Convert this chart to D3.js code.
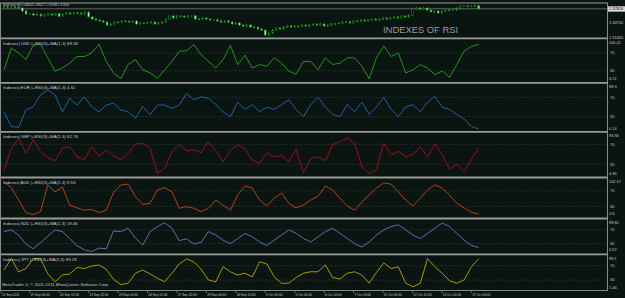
<!DOCTYPE html>
<html>
<head>
<meta charset="utf-8">
<script src="https://d3js.org/d3.v7.min.js"></script>
<style>
  body { margin: 0; background: #0a1410; }
  svg { display: block; font-family: "Liberation Sans", Arial, sans-serif; }
</style>
</head>
<body>
<svg id="chart" width="625" height="298"></svg>
<script>
// ---- data ----
const symbolHeader = "EURUSD,H4 1.38404 1.38527 1.37698 1.37826";
const timeLabels = ["15 Sep 2011", "19 Sep 04:00", "20 Sep 12:00", "21 Sep 20:00", "23 Sep 04:00",
  "26 Sep 12:00", "27 Sep 20:00", "29 Sep 04:00", "30 Sep 12:00", "3 Oct 20:00", "5 Oct 04:00",
  "6 Oct 12:00", "7 Oct 20:00", "11 Oct 04:00", "12 Oct 12:00", "13 Oct 20:00", "17 Oct 04:00"];
const priceLabels = ["1.37826", "1.34700", "1.31460"];
const priceTop = 1.3915, priceBottom = 1.3140;

// H4 closes, one per bar
const closes = [1.3830, 1.3818, 1.3826, 1.3821, 1.3801, 1.3733, 1.3664, 1.3668, 1.3641, 1.3660,
  1.3619, 1.3645, 1.3664, 1.3641, 1.3670, 1.3615, 1.3664, 1.3687, 1.3668, 1.3690,
  1.3684, 1.3666, 1.3712, 1.3596, 1.3550, 1.3527, 1.3505, 1.3482, 1.3413, 1.3436,
  1.3482, 1.3478, 1.3505, 1.3500, 1.3482, 1.3505, 1.3436, 1.3459, 1.3455, 1.3462,
  1.3482, 1.3436, 1.3459, 1.3482, 1.3550, 1.3619, 1.3573, 1.3619, 1.3615, 1.3596,
  1.3619, 1.3622, 1.3550, 1.3546, 1.3573, 1.3550, 1.3527, 1.3530, 1.3505, 1.3482,
  1.3505, 1.3482, 1.3436, 1.3459, 1.3413, 1.3390, 1.3413, 1.3368, 1.3365, 1.3322,
  1.3299, 1.3185, 1.3231, 1.3299, 1.3345, 1.3322, 1.3368, 1.3390, 1.3368, 1.3390,
  1.3386, 1.3413, 1.3390, 1.3413, 1.3436, 1.3413, 1.3436, 1.3390, 1.3413, 1.3436,
  1.3440, 1.3459, 1.3482, 1.3486, 1.3459, 1.3505, 1.3500, 1.3527, 1.3505, 1.3527,
  1.3550, 1.3527, 1.3550, 1.3573, 1.3550, 1.3573, 1.3596, 1.3573, 1.3619, 1.3596,
  1.3641, 1.3778, 1.3801, 1.3778, 1.3801, 1.3755, 1.3710, 1.3733, 1.3687, 1.3733,
  1.3755, 1.3750, 1.3755, 1.3801, 1.3847, 1.3850, 1.3843, 1.3847, 1.3852, 1.37826];

// RSI(3) index lines, sampled every second bar
const usd = [32, 81, 70, 55, 87, 90, 59, 29, 36, 47, 62, 62, 70, 90, 51, 25, 12, 44, 55, 32,
  25, 13, 32, 51, 74, 75, 89, 66, 51, 36, 55, 87, 44, 65, 36, 44, 40, 59, 47, 29,
  22, 51, 51, 32, 59, 44, 47, 59, 59, 40, 12, 59, 86, 62, 70, 25, 32, 44, 36, 21,
  29, 15, 44, 74, 85, 89.36];
const eur = [40, 10, 8, 44, 51, 75, 85, 75, 40, 68, 54, 71, 51, 40, 54, 58, 44, 40, 27, 51,
  34, 54, 54, 47, 54, 78, 65, 71, 68, 55, 40, 30, 60, 45, 55, 40, 50, 45, 55, 65,
  45, 30, 55, 70, 50, 35, 30, 55, 40, 60, 35, 50, 70, 45, 30, 50, 55, 40, 60, 72,
  50, 45, 35, 25, 10, 4.61];
const gbp = [17, 62, 82, 52, 79, 55, 43, 37, 62, 65, 45, 39, 65, 47, 59, 47, 39, 52, 70, 72,
  62, 12, 22, 55, 70, 57, 59, 53, 75, 57, 35, 57, 69, 60, 39, 32, 53, 45, 47, 35,
  60, 13, 42, 45, 37, 69, 75, 83, 72, 25, 12, 19, 72, 49, 56, 45, 50, 65, 45, 70,
  50, 20, 30, 15, 40, 62.76];
const aud = [93, 78, 46, 14, 9, 16, 85, 67, 80, 33, 26, 20, 22, 14, 20, 66, 85, 87, 55, 35,
  38, 72, 78, 67, 25, 29, 25, 16, 25, 46, 33, 20, 59, 82, 77, 46, 31, 51, 64, 38,
  26, 33, 46, 56, 82, 72, 51, 31, 20, 41, 59, 77, 90, 87, 67, 46, 31, 51, 72, 85,
  77, 59, 38, 26, 15, 9.53];
const nzd = [65, 70, 55, 29, 15, 33, 52, 70, 65, 45, 24, 12, 7, 17, 15, 67, 65, 75, 46, 26,
  65, 80, 91, 75, 39, 44, 29, 34, 65, 55, 40, 30, 45, 60, 50, 35, 25, 40, 55, 70,
  60, 45, 35, 50, 65, 75, 60, 45, 30, 20, 35, 55, 70, 80, 85, 70, 55, 45, 60, 75,
  90, 80, 60, 40, 25, 18.46];
const jpy = [58, 90, 53, 62, 90, 90, 47, 25, 44, 47, 65, 62, 69, 72, 60, 32, 17, 21, 49, 58,
  47, 35, 25, 49, 75, 89, 81, 60, 30, 25, 67, 53, 44, 49, 39, 81, 75, 39, 21, 21,
  37, 49, 53, 53, 72, 37, 33, 49, 53, 44, 21, 51, 78, 62, 67, 21, 11, 21, 90, 67,
  49, 28, 21, 30, 67, 89.28];

const indexNames = ["USD", "EUR", "GBP", "AUD", "NZD", "JPY"];
const indexSeries = [usd, eur, gbp, aud, nzd, jpy];
const indexLast = ["89.36", "4.61", "62.76", "9.53", "18.46", "89.28"];
const indexMax = [100.42, 98.3, 93.94, 102.17, 99.65, 99.1];
const indexMin = [4.51, 0.14, 4.96, 2.6, 2.67, 1.46];
const levels = [70, 30];

// ---- layout ----
const W = 625, H = 298;
const plotL = 1.5, plotR = 607.5;
const panelBox = [[39.5, 82], [83.6, 131.2], [132.3, 176.8], [178.2, 217], [219.8, 253], [255.3, 290.2]];
const colors = ["#22a41c", "#2466b4", "#a8101c", "#c4461c", "#5681c0", "#b8a600"];
const grey = "#8a8a8a", txt = "#c8c8c8";

const svg = d3.select("#chart");
svg.append("rect").attr("width", W).attr("height", H).attr("fill", "#0a1410");

const xBar = d3.scaleLinear().domain([0, closes.length - 1]).range([4, 478.7]);

// ---- price panel ----
const yPrice = d3.scaleLinear().domain([priceBottom, priceTop]).range([37, 3]);
const price = svg.append("g");
// bid line
price.append("line").attr("x1", plotL).attr("x2", plotR)
  .attr("y1", yPrice(closes[closes.length - 1])).attr("y2", yPrice(closes[closes.length - 1]))
  .attr("stroke", "#7a7a7a").attr("stroke-width", 0.8);

closes.forEach((c, i) => {
  const o = i ? closes[i - 1] : c;
  const y0 = Math.min(yPrice(o), yPrice(c)), y1 = Math.max(yPrice(o), yPrice(c));
  price.append("line").attr("x1", xBar(i)).attr("x2", xBar(i))
    .attr("y1", y0 - 1).attr("y2", y1 + 1).attr("stroke", "#10b810").attr("stroke-width", 0.6);
  price.append("rect").attr("x", xBar(i) - 0.8).attr("width", 1.6)
    .attr("y", y0).attr("height", Math.max(y1 - y0, 0.4))
    .attr("fill", c < o ? "#dedede" : "#000")
    .attr("stroke", "#10b810").attr("stroke-width", 0.4);
});

price.append("text").attr("x", 3).attr("y", 6.2).attr("fill", txt)
  .attr("font-size", 3.1).text(symbolHeader);
price.append("text").attr("x", 383).attr("y", 32.5).attr("fill", "#9c9c9c")
  .attr("font-size", 9.4).text("INDEXES OF RSI");

// price scale labels
const pY = [9, 22.8, 37.2];
price.append("rect").attr("x", 608).attr("y", 6.3).attr("width", 17).attr("height", 5.4).attr("fill", "#d8d8d8");
priceLabels.forEach((t, i) => {
  price.append("text").attr("x", 609).attr("y", pY[i] + 1.4)
    .attr("fill", i === 0 ? "#000" : txt).attr("font-size", 3.9).text(t);
});

// ---- RSI panels ----
indexNames.forEach((name, p) => {
  const [top, bot] = panelBox[p];
  const y = d3.scaleLinear().domain([indexMin[p], indexMax[p]]).range([bot, top]);
  const vals = indexSeries[p];
  const x = d3.scaleLinear().domain([0, vals.length - 1]).range(xBar.range());
  const g = svg.append("g");

  levels.forEach(l => {
    g.append("line").attr("x1", plotL).attr("x2", plotR).attr("y1", y(l)).attr("y2", y(l))
      .attr("stroke", "#4e4862").attr("stroke-width", 0.8).attr("stroke-dasharray", "1,2");
    g.append("text").attr("x", 610).attr("y", y(l) + 1.4).attr("fill", txt)
      .attr("font-size", 3.9).text(l);
  });

  g.append("path").datum(vals)
    .attr("d", d3.line().x((d, i) => x(i)).y(d => y(d)))
    .attr("fill", "none").attr("stroke", colors[p]).attr("stroke-width", 0.9);

  g.append("text").attr("x", 3).attr("y", top + 5.3).attr("fill", txt).attr("font-size", 4.4)
    .text(`Indexes| ${name} |+RSI(3)+MA(1,3) ${indexLast[p]}`);
  g.append("text").attr("x", 609).attr("y", top + 4.4).attr("fill", txt).attr("font-size", 3.9)
    .text(indexMax[p]);
  g.append("text").attr("x", 609).attr("y", bot - 1.6).attr("fill", txt).attr("font-size", 3.9)
    .text(indexMin[p]);
});

// ---- frames ----
const seps = [3, 38.3, 82.8, 131.8, 177.5, 218.5, 254.3];
seps.forEach((s, i) => {
  svg.append("line").attr("x1", 0).attr("x2", plotR + 0.5).attr("y1", s).attr("y2", s)
    .attr("stroke", "#9a9a9a").attr("stroke-width", i ? 1.8 : 1);
});
svg.append("line").attr("x1", plotL - 1).attr("x2", plotL - 1).attr("y1", 3).attr("y2", 290.5)
  .attr("stroke", grey).attr("stroke-width", 1);
svg.append("line").attr("x1", plotR).attr("x2", plotR).attr("y1", 3).attr("y2", 290.5)
  .attr("stroke", grey).attr("stroke-width", 1);
svg.append("line").attr("x1", 0).attr("x2", plotR + 0.5).attr("y1", 290.5).attr("y2", 290.5)
  .attr("stroke", grey).attr("stroke-width", 1);

// copyright
svg.append("text").attr("x", 2).attr("y", 286.3).attr("fill", txt).attr("font-size", 4.3)
  .text("MetaTrader 4, © 2001-2011 MetaQuotes Software Corp.");

// ---- time axis ----
const ax = svg.append("g");
timeLabels.forEach((t, i) => {
  const b = i === 0 ? 0 : 8 * i - 1;
  const xx = i === 0 ? 1 : xBar(b);
  ax.append("line").attr("x1", xx).attr("x2", xx).attr("y1", 290.5).attr("y2", 293)
    .attr("stroke", grey).attr("stroke-width", 0.7);
  ax.append("text").attr("x", xx + 0.8).attr("y", 295.6).attr("fill", txt)
    .attr("font-size", 3.2).text(t);
});
</script>
</body>
</html>
